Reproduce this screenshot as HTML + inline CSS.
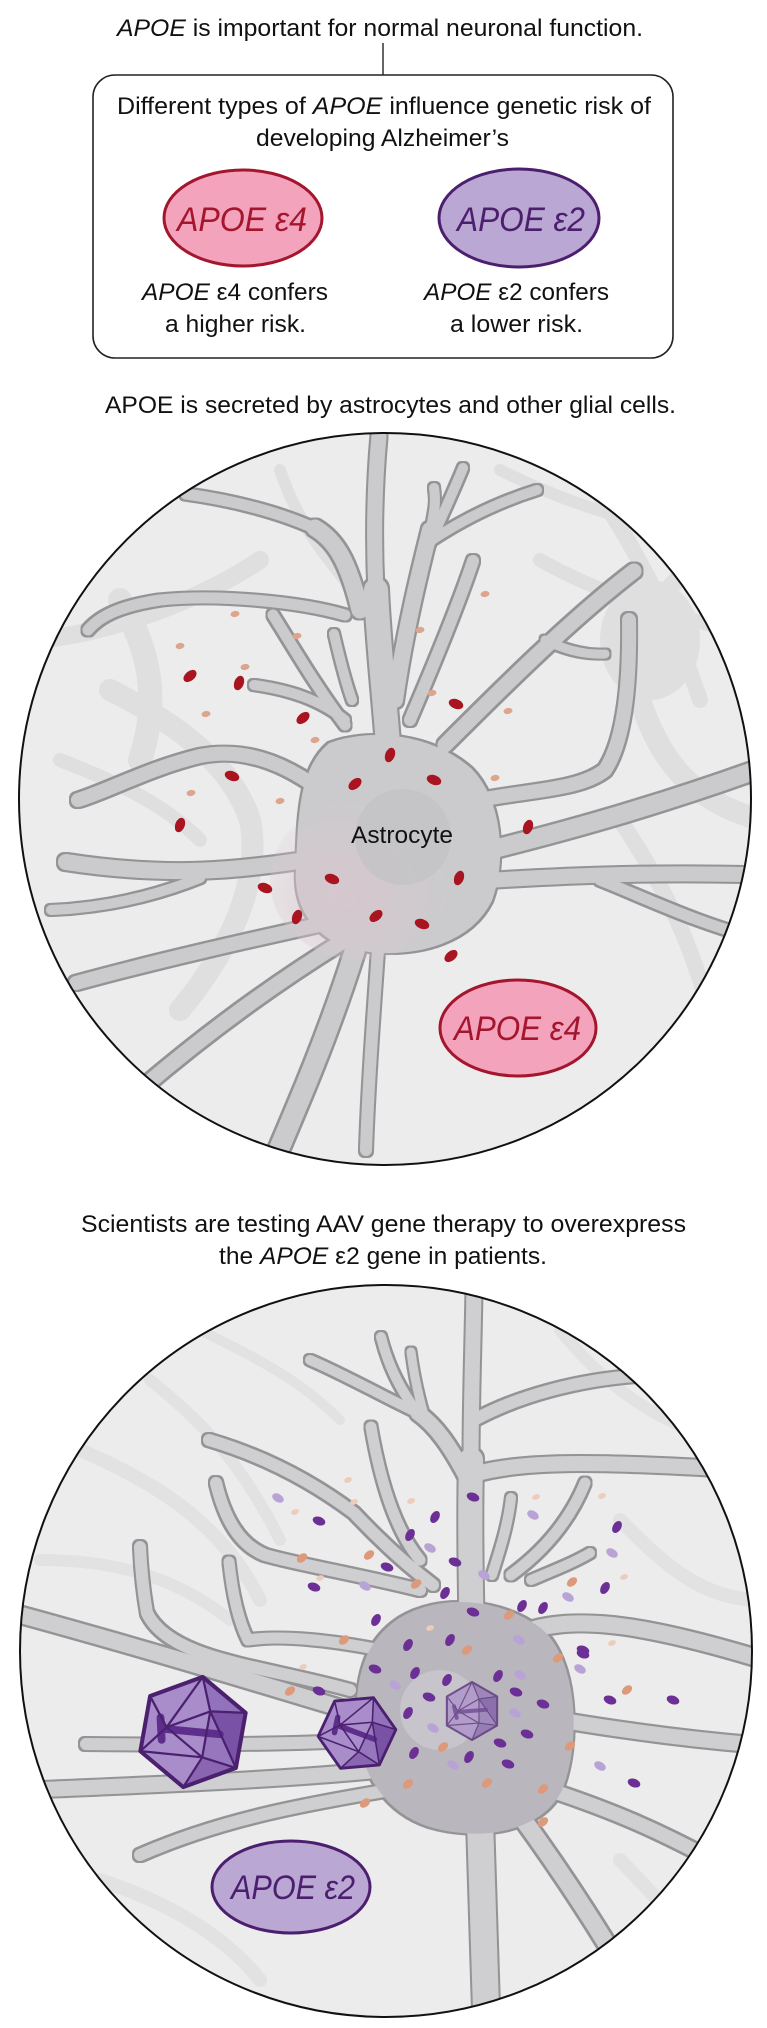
<!DOCTYPE html>
<html><head><meta charset="utf-8"><style>
html,body{margin:0;padding:0;background:#fff}
svg{display:block}
text{font-family:"Liberation Sans Narrow","Liberation Sans",Arial,sans-serif;fill:#111}
.i{font-style:italic}
</style></head><body>
<svg width="767" height="2028" viewBox="0 0 767 2028" xmlns="http://www.w3.org/2000/svg">
<defs>
<clipPath id="c1"><circle cx="385" cy="799" r="366"/></clipPath>
<clipPath id="c2"><circle cx="386" cy="1651" r="366"/></clipPath>
<filter id="ol" x="-5%" y="-5%" width="110%" height="110%">
<feMorphology in="SourceAlpha" operator="dilate" radius="2" result="d"/>
<feFlood flood-color="#949497"/>
<feComposite in2="d" operator="in" result="o"/>
<feMerge><feMergeNode in="o"/><feMergeNode in="SourceGraphic"/></feMerge>
</filter>
<ellipse id="rd" rx="7.5" ry="4.8" fill="#a8141f" transform="rotate(-40)"/>
<ellipse id="rd2" rx="7.5" ry="4.8" fill="#a8141f" transform="rotate(-70)"/>
<ellipse id="rd3" rx="7.5" ry="4.8" fill="#a8141f" transform="rotate(20)"/>
<ellipse id="pk" rx="4.5" ry="3" fill="#dca58e" transform="rotate(-10)"/>
<ellipse id="dp" rx="6.5" ry="4.2" fill="#6b2f96" transform="rotate(20)"/>
<ellipse id="dp2" rx="6.5" ry="4.2" fill="#6b2f96" transform="rotate(-60)"/>
<ellipse id="lv" rx="6.2" ry="4.1" fill="#b9a3d6" transform="rotate(30)"/>
<ellipse id="pe" rx="5.8" ry="3.9" fill="#dc9a7a" transform="rotate(-40)"/>
<ellipse id="pp" rx="4" ry="2.7" fill="#ecccbb" transform="rotate(-20)"/>
<g id="cap">
<polygon points="8.7,-49.2 47,-17.1 38.3,32.1 -8.7,49.2 -47,17.1 -38.3,-32.1" fill="#a98cca"/>
<polygon points="47,-17.1 38.3,32.1 15.4,-18.4" fill="#7a52a5"/>
<polygon points="38.3,32.1 -8.7,49.2 8.2,22.6" fill="#8a65b2"/>
<polygon points="15.4,-18.4 38.3,32.1 8.2,22.6" fill="#9677bd"/>
<polygon points="8.7,-49.2 47,-17.1 15.4,-18.4" fill="#9272ba"/>
<line x1="-28" y1="-3" x2="24" y2="2" stroke="#5e2e8c" stroke-width="7" stroke-linecap="round"/>
<line x1="-29" y1="-13" x2="-28" y2="7" stroke="#5e2e8c" stroke-width="7" stroke-linecap="round"/>
<g stroke="#4b206f" stroke-width="2" fill="none" stroke-linejoin="round">
<path d="M15.4,-18.4L8.7,-49.2M15.4,-18.4L47,-17.1M15.4,-18.4L38.3,32.1M8.2,22.6L38.3,32.1M8.2,22.6L-8.7,49.2M8.2,22.6L-47,17.1M-23.6,-4.2L-47,17.1M-23.6,-4.2L-38.3,-32.1M-23.6,-4.2L8.7,-49.2M15.4,-18.4L8.2,22.6L-23.6,-4.2Z"/>
</g>
<polygon points="8.7,-49.2 47,-17.1 38.3,32.1 -8.7,49.2 -47,17.1 -38.3,-32.1" fill="none" stroke="#4b206f" stroke-width="3.6" stroke-linejoin="round"/>
</g>
<radialGradient id="pinkg" cx="0.4" cy="0.6" r="0.6">
<stop offset="0" stop-color="#d9c6cf" stop-opacity="0.8"/>
<stop offset="1" stop-color="#d9c6cf" stop-opacity="0"/>
</radialGradient>
</defs>

<!-- TOP SECTION -->
<text x="117" y="36" font-size="24" textLength="526" lengthAdjust="spacingAndGlyphs"><tspan class="i">APOE</tspan> is important for normal neuronal function.</text>
<line x1="383" y1="43" x2="383" y2="75" stroke="#333" stroke-width="1.5"/>
<rect x="93" y="75" width="580" height="283" rx="22" ry="22" fill="#fff" stroke="#222" stroke-width="1.6"/>
<text x="117" y="114" font-size="24" textLength="534" lengthAdjust="spacingAndGlyphs">Different types of <tspan class="i">APOE</tspan> influence genetic risk of</text>
<text x="256" y="146" font-size="24" textLength="253" lengthAdjust="spacingAndGlyphs">developing Alzheimer’s</text>

<ellipse cx="243" cy="218" rx="79" ry="48" fill="#f4a3bd" stroke="#a3162d" stroke-width="3"/>
<text x="177" y="231" font-size="34" class="i" textLength="130" lengthAdjust="spacingAndGlyphs" style="fill:#a3162d">APOE ε4</text>
<ellipse cx="519" cy="218" rx="80" ry="49" fill="#bba7d3" stroke="#4b1f6e" stroke-width="3"/>
<text x="457" y="231" font-size="34" class="i" textLength="128" lengthAdjust="spacingAndGlyphs" style="fill:#4b1f6e">APOE ε2</text>

<text x="142" y="300" font-size="24" textLength="186" lengthAdjust="spacingAndGlyphs"><tspan class="i">APOE</tspan> ε4 confers</text>
<text x="165" y="332" font-size="24" textLength="141" lengthAdjust="spacingAndGlyphs">a higher risk.</text>
<text x="424" y="300" font-size="24" textLength="185" lengthAdjust="spacingAndGlyphs"><tspan class="i">APOE</tspan> ε2 confers</text>
<text x="450" y="332" font-size="24" textLength="133" lengthAdjust="spacingAndGlyphs">a lower risk.</text>

<text x="105" y="413" font-size="24" textLength="571" lengthAdjust="spacingAndGlyphs">APOE is secreted by astrocytes and other glial cells.</text>

<!-- CIRCLE 1 -->
<g clip-path="url(#c1)">
<circle cx="385" cy="799" r="366" fill="#ececec"/>
<g fill="none" stroke="#dfdfe0" stroke-linecap="round">
<path d="M40,640 C120,630 200,600 260,560" stroke-width="18"/>
<path d="M110,690 C170,720 230,760 250,820 C262,880 230,950 180,1010" stroke-width="22"/>
<path d="M120,600 C150,650 160,700 140,760" stroke-width="24"/>
<path d="M590,480 C630,540 670,610 700,700" stroke-width="16"/>
<path d="M540,560 C610,600 690,620 770,640" stroke-width="14"/>
<path d="M620,820 C660,880 700,950 720,1060" stroke-width="16"/>
<path d="M640,700 C660,760 690,800 760,820" stroke-width="22"/>
<path d="M280,470 C300,530 330,560 360,600" stroke-width="12"/>
<path d="M500,470 C560,500 620,520 680,530" stroke-width="12"/>
<path d="M60,760 C110,780 160,800 200,840" stroke-width="14"/>
<path d="M660,600 C690,560 720,540 760,530" stroke-width="18"/>
</g>
<ellipse cx="650" cy="640" rx="50" ry="60" fill="#dfdfe0"/>

<g filter="url(#ol)" fill="none" stroke="#cbcbcd" stroke-linecap="round" stroke-linejoin="round">
<path d="M390,770 C385,700 378,640 376,590" stroke-width="24"/>
<path d="M376,592 C373,530 375,480 379,436" stroke-width="15"/>
<path d="M360,610 C348,560 335,540 315,528" stroke-width="17"/>
<path d="M318,530 C280,512 230,500 186,494" stroke-width="11"/>
<path d="M395,700 C405,630 420,570 430,530" stroke-width="16"/>
<path d="M430,532 C435,510 436,500 434,488" stroke-width="10"/>
<path d="M428,548 C440,520 452,495 463,468" stroke-width="10"/>
<path d="M432,540 C470,515 505,500 537,490" stroke-width="10"/>
<path d="M410,720 C440,650 460,600 473,561" stroke-width="12"/>
<path d="M445,745 C500,690 570,620 634,571" stroke-width="15"/>
<path d="M545,640 C565,650 585,655 605,654" stroke-width="9"/>
<path d="M480,800 C530,790 580,790 605,770 C625,740 630,680 629,620" stroke-width="14"/>
<path d="M490,850 C570,830 660,805 770,765" stroke-width="18"/>
<path d="M495,880 C580,875 660,872 770,875" stroke-width="15"/>
<path d="M600,880 C650,900 700,925 770,942" stroke-width="11"/>
<path d="M320,790 C280,760 240,748 200,756 C150,768 110,790 78,800" stroke-width="14"/>
<path d="M345,615 C300,602 220,594 160,600 C120,606 100,616 88,630" stroke-width="11"/>
<path d="M305,860 C240,870 170,878 66,862" stroke-width="16"/>
<path d="M200,878 C150,898 100,908 51,910" stroke-width="10"/>
<path d="M318,925 C250,940 160,960 76,983" stroke-width="14"/>
<path d="M345,940 C280,980 210,1030 140,1090" stroke-width="15"/>
<path d="M355,950 C330,1030 300,1100 270,1170" stroke-width="20"/>
<path d="M378,950 C373,1020 368,1090 366,1150" stroke-width="12"/>
<path d="M273,615 C295,650 315,685 345,725" stroke-width="11"/>
<path d="M254,685 C290,690 320,700 345,720" stroke-width="10"/>
<path d="M334,634 C340,660 345,680 352,700" stroke-width="10"/>
<path d="M330,745 C370,730 430,735 470,770 C500,800 505,860 490,900 C470,940 420,955 370,950 C320,945 295,910 298,870 C300,820 300,770 330,745 Z" fill="#cbcbcd" stroke-width="4"/>
</g>
<ellipse cx="360" cy="880" rx="90" ry="80" fill="url(#pinkg)"/>
<circle cx="403" cy="837" r="48" fill="#c3c3c6" opacity="0.8"/>

<g>
<use href="#rd" x="190" y="676"/><use href="#rd2" x="239" y="683"/><use href="#rd" x="303" y="718"/>
<use href="#rd3" x="456" y="704"/><use href="#rd2" x="390" y="755"/><use href="#rd3" x="232" y="776"/>
<use href="#rd" x="355" y="784"/><use href="#rd3" x="434" y="780"/><use href="#rd2" x="180" y="825"/>
<use href="#rd2" x="528" y="827"/><use href="#rd3" x="265" y="888"/><use href="#rd3" x="332" y="879"/>
<use href="#rd2" x="459" y="878"/><use href="#rd2" x="297" y="917"/><use href="#rd" x="376" y="916"/>
<use href="#rd3" x="422" y="924"/><use href="#rd" x="451" y="956"/>
<use href="#pk" x="485" y="594"/><use href="#pk" x="420" y="630"/><use href="#pk" x="235" y="614"/>
<use href="#pk" x="297" y="636"/><use href="#pk" x="180" y="646"/><use href="#pk" x="245" y="667"/>
<use href="#pk" x="432" y="693"/><use href="#pk" x="508" y="711"/><use href="#pk" x="206" y="714"/>
<use href="#pk" x="315" y="740"/><use href="#pk" x="495" y="778"/><use href="#pk" x="191" y="793"/>
<use href="#pk" x="280" y="801"/>
</g>
<text x="351" y="843" font-size="24" textLength="102" lengthAdjust="spacingAndGlyphs">Astrocyte</text>
<ellipse cx="518" cy="1028" rx="78" ry="48" fill="#f4a3bd" stroke="#a3162d" stroke-width="3"/>
<text x="454" y="1040" font-size="34" class="i" textLength="127" lengthAdjust="spacingAndGlyphs" style="fill:#a3162d">APOE ε4</text>
</g>
<circle cx="385" cy="799" r="366" fill="none" stroke="#111" stroke-width="2"/>

<!-- MIDDLE TEXT -->
<text x="81" y="1232" font-size="24" textLength="605" lengthAdjust="spacingAndGlyphs">Scientists are testing AAV gene therapy to overexpress</text>
<text x="219" y="1264" font-size="24" textLength="328" lengthAdjust="spacingAndGlyphs">the <tspan class="i">APOE</tspan> ε2 gene in patients.</text>

<!-- CIRCLE 2 -->
<g clip-path="url(#c2)">
<circle cx="386" cy="1651" r="366" fill="#ececec"/>
<g fill="none" stroke="#e2e2e3" stroke-linecap="round">
<path d="M80,1450 C150,1480 220,1520 260,1600" stroke-width="14"/>
<path d="M150,1380 C200,1420 240,1460 280,1540" stroke-width="12"/>
<path d="M560,1330 C600,1380 650,1420 720,1440" stroke-width="12"/>
<path d="M620,1520 C660,1560 700,1600 760,1600" stroke-width="14"/>
<path d="M40,1560 C120,1560 180,1580 230,1620" stroke-width="12"/>
<path d="M200,1330 C260,1360 300,1380 340,1420" stroke-width="10"/>
<path d="M620,1860 C660,1900 690,1940 720,1960" stroke-width="14"/>
<path d="M100,1880 C160,1900 220,1930 260,1980" stroke-width="14"/>
</g>
<g filter="url(#ol)" fill="none" stroke="#cfcfd1" stroke-linecap="round" stroke-linejoin="round">
<path d="M472,1640 C470,1560 470,1500 471,1460" stroke-width="24"/>
<path d="M471,1462 C471,1400 473,1350 474,1290" stroke-width="15"/>
<path d="M472,1475 C520,1460 600,1462 710,1468" stroke-width="15"/>
<path d="M474,1420 C520,1395 580,1380 635,1376" stroke-width="12"/>
<path d="M468,1480 C450,1445 435,1425 418,1413" stroke-width="15"/>
<path d="M418,1413 C380,1395 345,1375 310,1360" stroke-width="10"/>
<path d="M418,1413 C400,1390 388,1365 381,1337" stroke-width="10"/>
<path d="M425,1418 C418,1395 414,1375 411,1352" stroke-width="9"/>
<path d="M433,1585 C400,1560 370,1530 354,1513 C310,1480 260,1455 209,1440" stroke-width="12"/>
<path d="M420,1560 C395,1530 380,1480 371,1427" stroke-width="11"/>
<path d="M420,1590 C360,1575 300,1565 265,1555 C240,1545 225,1520 216,1483" stroke-width="12"/>
<path d="M380,1650 C330,1640 280,1635 248,1640 C238,1620 232,1590 229,1562" stroke-width="11"/>
<path d="M350,1690 C260,1665 170,1660 147,1613 C143,1590 141,1570 140,1547" stroke-width="12"/>
<path d="M380,1720 C280,1690 150,1650 10,1612" stroke-width="16"/>
<path d="M370,1740 C280,1745 180,1745 86,1744" stroke-width="12"/>
<path d="M380,1770 C280,1780 150,1785 30,1790" stroke-width="15"/>
<path d="M390,1790 C300,1805 220,1820 140,1855" stroke-width="12"/>
<path d="M480,1820 C482,1900 485,1960 487,2040" stroke-width="26"/>
<path d="M520,1815 C560,1870 600,1930 640,2000" stroke-width="17"/>
<path d="M531,1630 C580,1615 650,1625 770,1662" stroke-width="16"/>
<path d="M560,1720 C620,1730 690,1740 770,1746" stroke-width="15"/>
<path d="M550,1790 C610,1810 660,1830 740,1875" stroke-width="14"/>
<path d="M511,1575 C545,1550 570,1520 585,1483" stroke-width="11"/>
<path d="M492,1575 C500,1550 508,1525 511,1498" stroke-width="10"/>
<path d="M531,1580 C555,1570 575,1562 590,1553" stroke-width="10"/>
<path d="M400,1620 C440,1595 500,1600 540,1630 C575,1660 580,1740 560,1790 C540,1830 480,1840 430,1825 C385,1810 360,1770 358,1720 C358,1670 370,1640 400,1620 Z" fill="#b9b6bd" stroke="#b9b6bd" stroke-width="4"/>
</g>
<circle cx="440" cy="1710" r="40" fill="#c7c4cb"/>

<g>
<use href="#dp" x="473" y="1497"/><use href="#dp2" x="435" y="1517"/><use href="#dp" x="319" y="1521"/>
<use href="#dp2" x="410" y="1535"/><use href="#dp2" x="617" y="1527"/><use href="#dp" x="387" y="1567"/>
<use href="#dp" x="455" y="1562"/><use href="#dp" x="314" y="1587"/><use href="#dp2" x="605" y="1588"/>
<use href="#dp2" x="445" y="1593"/><use href="#dp2" x="522" y="1606"/><use href="#dp2" x="543" y="1608"/>
<use href="#dp" x="473" y="1612"/><use href="#dp2" x="376" y="1620"/><use href="#dp2" x="408" y="1645"/>
<use href="#dp2" x="450" y="1640"/><use href="#dp" x="583" y="1650"/>
<use href="#dp" x="375" y="1669"/><use href="#dp2" x="415" y="1673"/><use href="#dp2" x="447" y="1680"/>
<use href="#dp2" x="498" y="1676"/><use href="#dp" x="319" y="1691"/><use href="#dp" x="429" y="1697"/>
<use href="#dp" x="516" y="1692"/><use href="#dp2" x="408" y="1713"/><use href="#dp" x="527" y="1734"/>
<use href="#dp" x="500" y="1743"/><use href="#dp2" x="414" y="1753"/><use href="#dp2" x="469" y="1757"/>
<use href="#dp" x="508" y="1764"/><use href="#dp" x="610" y="1700"/><use href="#dp" x="673" y="1700"/>
<use href="#dp" x="634" y="1783"/><use href="#dp" x="543" y="1704"/><use href="#dp" x="583" y="1654"/>
<use href="#lv" x="278" y="1498"/><use href="#lv" x="533" y="1515"/><use href="#lv" x="430" y="1548"/>
<use href="#lv" x="612" y="1553"/><use href="#lv" x="365" y="1586"/><use href="#lv" x="484" y="1575"/>
<use href="#lv" x="568" y="1597"/><use href="#lv" x="519" y="1640"/><use href="#lv" x="580" y="1669"/>
<use href="#lv" x="395" y="1685"/><use href="#lv" x="520" y="1675"/><use href="#lv" x="433" y="1728"/>
<use href="#lv" x="453" y="1765"/><use href="#lv" x="515" y="1713"/><use href="#lv" x="600" y="1766"/>
<use href="#pe" x="369" y="1555"/><use href="#pe" x="302" y="1558"/><use href="#pe" x="416" y="1584"/>
<use href="#pe" x="572" y="1582"/><use href="#pe" x="509" y="1615"/><use href="#pe" x="344" y="1640"/>
<use href="#pe" x="558" y="1658"/><use href="#pe" x="467" y="1650"/><use href="#pe" x="290" y="1691"/>
<use href="#pe" x="443" y="1747"/><use href="#pe" x="408" y="1784"/><use href="#pe" x="487" y="1783"/>
<use href="#pe" x="365" y="1803"/><use href="#pe" x="627" y="1690"/><use href="#pe" x="570" y="1746"/>
<use href="#pe" x="543" y="1789"/><use href="#pe" x="543" y="1822"/>
<use href="#pp" x="348" y="1480"/><use href="#pp" x="354" y="1502"/><use href="#pp" x="411" y="1501"/>
<use href="#pp" x="295" y="1512"/><use href="#pp" x="536" y="1497"/><use href="#pp" x="602" y="1496"/>
<use href="#pp" x="624" y="1577"/><use href="#pp" x="320" y="1578"/><use href="#pp" x="612" y="1643"/>
<use href="#pp" x="430" y="1628"/><use href="#pp" x="303" y="1667"/>
</g>

<use href="#cap" transform="translate(193,1732) scale(1.12)"/>
<use href="#cap" transform="translate(357,1733) scale(0.78) rotate(15)"/>
<g opacity="0.7"><use href="#cap" transform="translate(472,1711) scale(0.58) rotate(-10)"/></g>

<ellipse cx="291" cy="1887" rx="79" ry="46" fill="#bba7d3" stroke="#4b1f6e" stroke-width="3"/>
<text x="231" y="1899" font-size="34" class="i" textLength="124" lengthAdjust="spacingAndGlyphs" style="fill:#4b1f6e">APOE ε2</text>
</g>
<circle cx="386" cy="1651" r="366" fill="none" stroke="#111" stroke-width="2"/>
</svg>
</body></html>
